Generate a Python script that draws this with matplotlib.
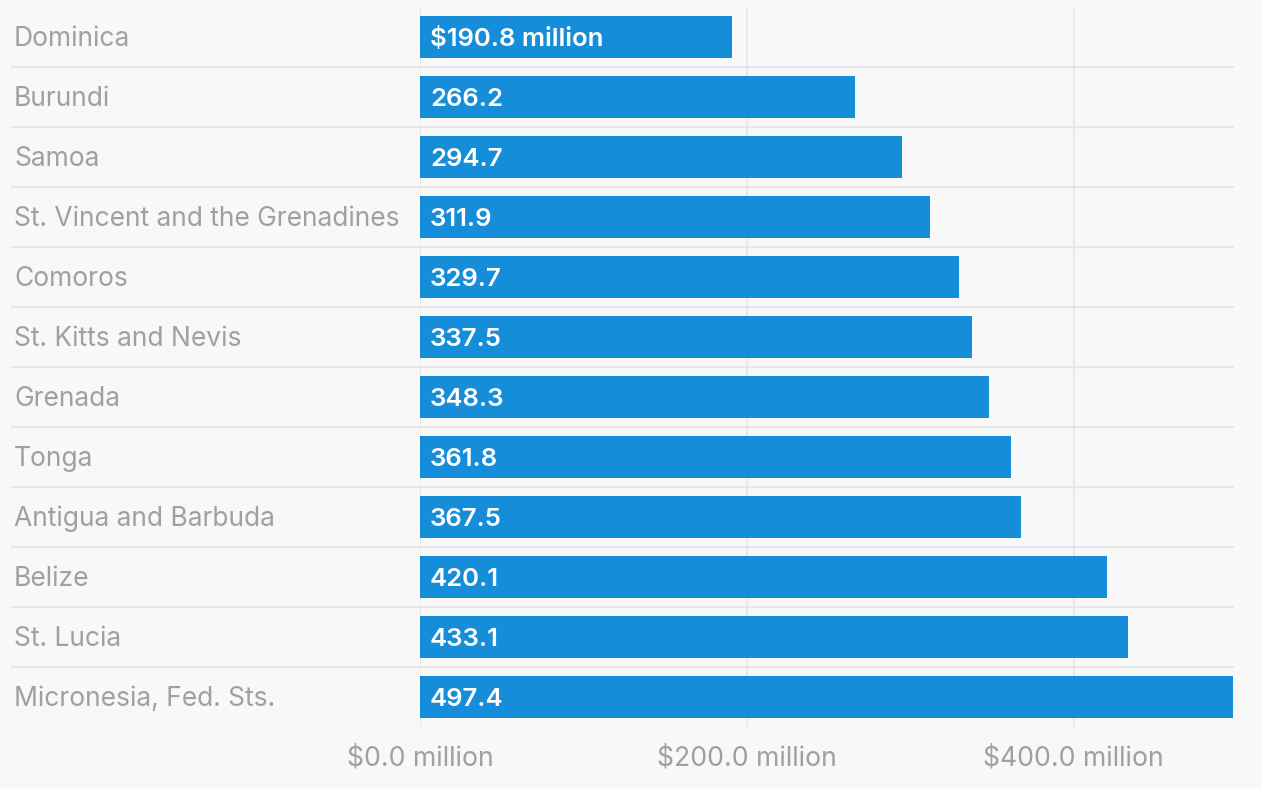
import matplotlib
matplotlib.use("Agg")
import matplotlib.pyplot as plt
import matplotlib.transforms as mtransforms

# Data (values in $ million)
countries = ["Dominica", "Burundi", "Samoa", "St. Vincent and the Grenadines",
             "Comoros", "St. Kitts and Nevis", "Grenada", "Tonga",
             "Antigua and Barbuda", "Belize", "St. Lucia", "Micronesia, Fed. Sts."]
values = [190.8, 266.2, 294.7, 311.9, 329.7, 337.5, 348.3, 361.8, 367.5, 420.1, 433.1, 497.4]
value_labels = ["$190.8 million", "266.2", "294.7", "311.9", "329.7", "337.5",
                "348.3", "361.8", "367.5", "420.1", "433.1", "497.4"]
tick_values = [0, 200, 400]
tick_labels = ["$0.0 million", "$200.0 million", "$400.0 million"]

bg = "#f8f8f8"
bar_color = "#168dd9"
text_gray = "#a0a0a0"
grid_color = "#e6e6e6"

plt.rcParams["font.family"] = ["Inter", "DejaVu Sans"]

W, H = 1262, 788
fig = plt.figure(figsize=(W / 100, H / 100), dpi=100, facecolor=bg)
ax_left, ax_right, ax_top, ax_bottom = 420, 1233, 7, 727
ax = fig.add_axes([ax_left / W, 1 - ax_bottom / H,
                   (ax_right - ax_left) / W, (ax_bottom - ax_top) / H])
ax.set_facecolor(bg)

y = list(range(len(countries)))
ax.barh(y, values, height=0.7, color=bar_color, zorder=3)
ax.set_xlim(0, max(values))
ax.set_ylim(len(countries) - 0.5, -0.5)

# vertical gridlines
for t in tick_values:
    ax.axvline(t, color=grid_color, lw=1.2, zorder=1)

# separators between rows, extending into the label area
trans = mtransforms.blended_transform_factory(ax.transAxes, ax.transData)
sep_left = (12 - ax_left) / (ax_right - ax_left)
for i in range(len(countries) - 1):
    ax.plot([sep_left, 1.0], [i + 0.5, i + 0.5], color=grid_color, lw=1.5,
            transform=trans, clip_on=False, zorder=2)

# category labels
lab_x = (14 - ax_left) / (ax_right - ax_left)
for i, name in enumerate(countries):
    ax.annotate(name, xy=(lab_x, i), xycoords=trans, xytext=(0, -1.5),
                textcoords="offset points", ha="left", va="center",
                fontsize=19, color=text_gray, annotation_clip=False)

# value labels inside bars
for i, (v, lab) in enumerate(zip(values, value_labels)):
    ax.annotate(lab, xy=(0, i), xytext=(7.2, -1.5), textcoords="offset points",
                ha="left", va="center", fontsize=18.5, color="white",
                fontweight="semibold", zorder=4)

ax.set_xticks(tick_values)
ax.set_xticklabels(tick_labels, fontsize=19.2, color=text_gray)
ax.tick_params(axis="x", length=0, pad=13)
ax.set_yticks([])
for s in ax.spines.values():
    s.set_visible(False)

fig.savefig("out.png", dpi=100, facecolor=bg)
